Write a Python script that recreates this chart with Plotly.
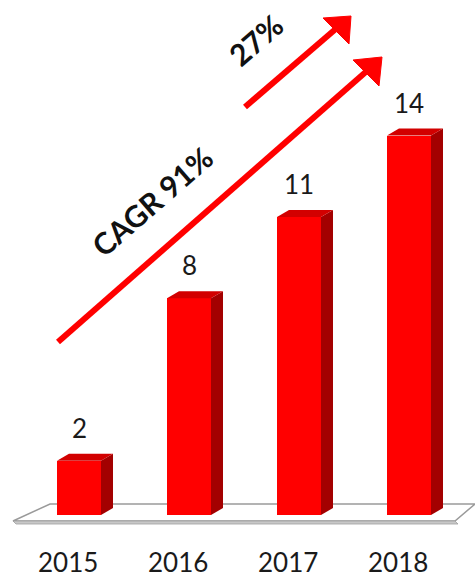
import plotly.graph_objects as go

# Data
years = ["2015", "2016", "2017", "2018"]
values = [2, 8, 11, 14]
cagr_total = "CAGR 91%"
cagr_recent = "27%"

W, H = 475, 578
FONT = "Lato"

# Axis ranges chosen so that one category step = 110 px and one unit = 27.1 px
STEP_PX = 110.0
UNIT_PX = 27.1
X0_PX = 79.0      # pixel position of the first category
Y0_PX = 515.0     # pixel position of value 0
x_range = [-X0_PX / STEP_PX, (W - X0_PX) / STEP_PX]
y_range = [-(H - Y0_PX) / UNIT_PX, Y0_PX / UNIT_PX]


def dx(px):
    return px / STEP_PX - X0_PX / STEP_PX


def dy(py):
    return (Y0_PX - py) / UNIT_PX


def paper(px, py):
    return px / W, 1 - py / H


half_w = 0.2              # half width of the bar front face
depth_x = 12 / STEP_PX    # 3D depth offsets
depth_y = 7 / UNIT_PX

FRONT = "#ff0000"
SIDE = "#a30000"
TOP = "#d20000"

xs = list(range(len(years)))

fig = go.Figure()

# Front faces
fig.add_trace(go.Bar(
    x=xs, y=values, width=2 * half_w,
    marker=dict(color=FRONT, line=dict(width=0)),
    hoverinfo="skip", showlegend=False,
))

# Side and top faces for the 3D look
for i, v in zip(xs, values):
    r = i + half_w
    l = i - half_w
    fig.add_trace(go.Scatter(
        x=[r, r + depth_x, r + depth_x, r, r],
        y=[0, depth_y, v + depth_y, v, 0],
        fill="toself", fillcolor=SIDE, mode="lines",
        line=dict(width=0, color=SIDE), hoverinfo="skip", showlegend=False,
    ))
    fig.add_trace(go.Scatter(
        x=[l, l + depth_x, r + depth_x, r, l],
        y=[v, v + depth_y, v + depth_y, v, v],
        fill="toself", fillcolor=TOP, mode="lines",
        line=dict(width=0, color=TOP), hoverinfo="skip", showlegend=False,
    ))

shapes = []

# Floor slab
floor = [(13, 521), (50, 504), (475, 504), (455, 521)]
path = "M " + " L ".join(f"{dx(px)},{dy(py)}" for px, py in floor) + " Z"
shapes.append(dict(type="path", xref="x", yref="y", path=path,
                   fillcolor="white", line=dict(color="#9a9a9a", width=1.5),
                   layer="below"))
front_edge = [(13, 521), (455, 521), (458, 524), (16, 524)]
path = "M " + " L ".join(f"{dx(px)},{dy(py)}" for px, py in front_edge) + " Z"
shapes.append(dict(type="path", xref="x", yref="y", path=path,
                   fillcolor="#c8c8c8", line=dict(color="#a0a0a0", width=0.8),
                   layer="below"))


def arrow(start, end, tip, head_a, head_b):
    x0, y0 = paper(*start)
    x1, y1 = paper(*end)
    shapes.append(dict(type="line", xref="paper", yref="paper",
                       x0=x0, y0=y0, x1=x1, y1=y1,
                       line=dict(color="#ff0000", width=6)))
    pts = [paper(*tip), paper(*head_a), paper(*head_b)]
    p = "M " + " L ".join(f"{a},{b}" for a, b in pts) + " Z"
    shapes.append(dict(type="path", xref="paper", yref="paper", path=p,
                       fillcolor="#ff0000", line=dict(color="#ff0000", width=1)))


# Long-term growth arrow and the recent-growth arrow
arrow((58, 342), (368, 70), (382, 57), (353, 60), (379, 86))
arrow((245, 107), (338, 27), (351, 16), (323, 18), (349, 44))

annotations = []

# Value labels above each bar
for i, v in zip(xs, values):
    annotations.append(dict(
        x=i, y=v + depth_y, xref="x", yref="y", text=str(v),
        showarrow=False, xanchor="center", yanchor="bottom", yshift=8,
        font=dict(family=FONT, size=26, color="#1a1a1a"),
    ))

# Category labels under the floor
for i, yr in zip(xs, years):
    annotations.append(dict(
        x=i - 0.1, y=paper(0, 562)[1], xref="x", yref="paper", text=yr,
        showarrow=False, xanchor="center", yanchor="middle",
        font=dict(family=FONT, size=26, color="#1a1a1a"),
    ))

# Growth labels along the arrows
px, py = paper(152, 201)
annotations.append(dict(x=px, y=py, xref="paper", yref="paper", text=f"<b>{cagr_total}</b>",
                        showarrow=False, textangle=-41, xanchor="center", yanchor="middle",
                        font=dict(family=FONT, size=30, color="#111111")))
px, py = paper(255, 40)
annotations.append(dict(x=px, y=py, xref="paper", yref="paper", text=f"<b>{cagr_recent}</b>",
                        showarrow=False, textangle=-41, xanchor="center", yanchor="middle",
                        font=dict(family=FONT, size=30, color="#111111")))

fig.update_layout(
    width=W, height=H,
    margin=dict(l=0, r=0, t=0, b=0),
    paper_bgcolor="white", plot_bgcolor="white",
    xaxis=dict(range=x_range, visible=False, fixedrange=True),
    yaxis=dict(range=y_range, visible=False, fixedrange=True),
    shapes=shapes, annotations=annotations,
    showlegend=False, bargap=0,
)

fig.write_html("out.html", config={"displayModeBar": False})
